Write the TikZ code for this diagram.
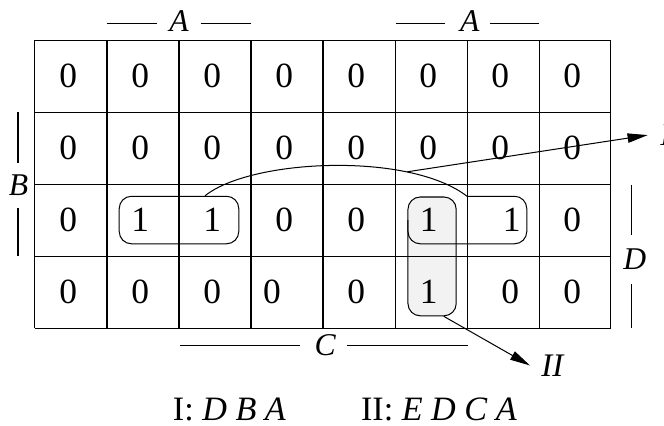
\documentclass[tikz,border=0pt]{standalone}
\usepackage{fontspec}
\setmainfont{Liberation Serif}
\usetikzlibrary{arrows.meta}
\definecolor{boxgray}{gray}{0.95}

\begin{document}
\begin{tikzpicture}[
    bit/.style={font=\fontsize{14}{16}\selectfont},
    lbl/.style={font=\fontsize{12.5}{14}\selectfont\itshape},
    grp/.style={draw,rounded corners=0.17cm,inner sep=0pt},
    ptr/.style={-{Triangle[length=0.28cm,width=0.13cm]}}
  ]
  \useasboundingbox (-0.486,0.556) rectangle (8.736,-5.347);

  % groups behind the map
  \node[grp,fill=boxgray,minimum width=0.67cm,minimum height=1.65cm] (grpII) at (5.515,-3.005) {};
  \node[grp,minimum width=1.66cm,minimum height=0.66cm] (grpI) at (2,-2.5) {};
  \draw[rounded corners=0.17cm] (6,-2.17) -- (6.83,-2.17) -- (6.83,-2.83) -- (5.18,-2.83) -- (5.18,-2.5);

  \draw (0,-4) grid (8,0);

  % cells
  \foreach \r in {0,1}
    \foreach \c in {0,...,7}
      \node[bit] (b\r\c) at (\c+0.46,-\r-0.5) {0};
  \foreach \c/\x/\v in {0/0.46/0,1/1.46/1,2/2.46/1,3/3.46/0,4/4.46/0,5/5.47/1,6/6.62/1,7/7.46/0}
    \node[bit] (b2\c) at (\x,-2.5) {\v};
  \foreach \c/\x/\v in {0/0.46/0,1/1.46/0,2/2.46/0,3/3.29/0,4/4.46/0,5/5.47/1,6/6.6/0,7/7.46/0}
    \node[bit] (b3\c) at (\x,-3.5) {\v};

  % variable brackets
  \node[lbl] (topA) at (2,0.26) {A};
  \draw (1,0.236) -- (1.7,0.236);
  \draw (2.3,0.236) -- (3,0.236);
  \node[lbl] (topAA) at (6.04,0.26) {A};
  \draw (5.01,0.236) -- (5.7,0.236);
  \draw (6.32,0.236) -- (7,0.236);
  \node[lbl] (sideB) at (-0.23,-2.01) {B};
  \draw (-0.236,-1) -- (-0.236,-1.71);
  \draw (-0.236,-2.33) -- (-0.236,-3);
  \node[lbl] (sideD) at (8.33,-3.05) {D};
  \draw (8.29,-2.01) -- (8.29,-2.71);
  \draw (8.29,-3.39) -- (8.29,-4);
  \node[lbl] (botC) at (4.03,-4.24) {C};
  \draw (2.01,-4.24) -- (3.68,-4.24);
  \draw (4.33,-4.24) -- (6.01,-4.24);

  % links
  \coordinate (pairtop) at (6,-2.17);
  \coordinate (fork) at (5.17,-1.83);
  \draw (grpI.43) .. controls (3.0,-1.65) and (5.2,-1.55) .. (pairtop);
  \node[lbl,anchor=west,inner sep=0.17cm] (lblI) at (8.51,-1.32) {I};
  \draw[ptr] (fork) -- (lblI.west);
  \node[lbl,font=\fontsize{13}{15}\selectfont\itshape,anchor=west,inner sep=0.15cm] (lblII) at (6.875,-4.52) {II};
  \draw[ptr] (grpII.-79) -- (lblII.west);

  % terms
  \node[anchor=base,font=\fontsize{13.5}{15}\selectfont] (sumI) at (2.70,-5.28) {I: \textit{D B A}};
  \node[anchor=base,font=\fontsize{13.5}{15}\selectfont] (sumII) at (5.61,-5.28) {II: \textit{E D C A}};
\end{tikzpicture}
\end{document}
